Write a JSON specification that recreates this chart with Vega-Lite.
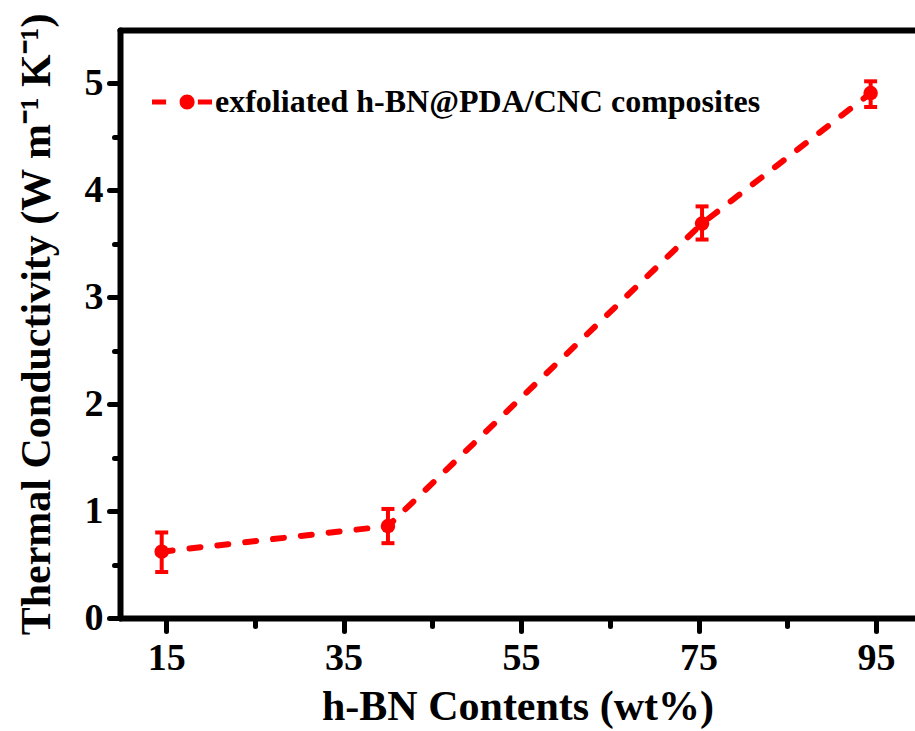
{
  "$schema": "https://vega.github.io/schema/vega-lite/v6.json",
  "width": 795,
  "height": 588,
  "autosize": {"type": "none"},
  "padding": {"left": 120, "top": 30, "right": 0, "bottom": 113},
  "background": "white",
  "config": {
    "view": {"stroke": null},
    "font": "Liberation Serif",
    "axis": {
      "grid": false,
      "domainColor": "black",
      "domainWidth": 6,
      "domainCap": "round",
      "tickColor": "black",
      "tickWidth": 5,
      "tickCap": "round",
      "labelFont": "Liberation Serif",
      "labelFontWeight": "bold",
      "labelFontSize": 38,
      "labelColor": "black",
      "titleFont": "Liberation Serif",
      "titleFontWeight": "bold",
      "titleFontSize": 42,
      "titleColor": "black"
    }
  },
  "data": {
    "values": [
      {"content": 14.5, "tc": 0.62, "lo": 0.43, "hi": 0.80, "series": "exfoliated h-BN@PDA/CNC composites"},
      {"content": 40.0, "tc": 0.86, "lo": 0.70, "hi": 1.02, "series": "exfoliated h-BN@PDA/CNC composites"},
      {"content": 75.4, "tc": 3.69, "lo": 3.54, "hi": 3.85, "series": "exfoliated h-BN@PDA/CNC composites"},
      {"content": 94.4, "tc": 4.91, "lo": 4.78, "hi": 5.02, "series": "exfoliated h-BN@PDA/CNC composites"}
    ]
  },
  "resolve": {"axis": {"x": "independent", "y": "independent"}},
  "layer": [
    {
      "mark": {"type": "point", "opacity": 0},
      "encoding": {
        "x": {
          "field": "content", "type": "quantitative",
          "axis": {"orient": "bottom", "values": [25, 45, 65, 85], "tickSize": 8, "labels": false, "domain": false, "title": null}
        },
        "y": {
          "field": "tc", "type": "quantitative",
          "axis": {"orient": "left", "values": [0.5, 1.5, 2.5, 3.5, 4.5], "tickSize": 6, "labels": false, "domain": false, "title": null}
        }
      }
    },
    {
      "mark": {"type": "line", "color": "#ff0000", "strokeWidth": 6, "strokeDash": [11, 17], "strokeCap": "round"},
      "encoding": {
        "x": {
          "field": "content", "type": "quantitative",
          "scale": {"domain": [9.8, 99.4], "nice": false, "zero": false},
          "axis": {"orient": "bottom", "values": [15, 35, 55, 75, 95], "tickSize": 13, "labelPadding": 8, "title": "h-BN Contents (wt%)", "titlePadding": 9}
        },
        "y": {
          "field": "tc", "type": "quantitative",
          "scale": {"domain": [0, 5.5], "nice": false},
          "axis": {"orient": "left", "values": [0, 1, 2, 3, 4, 5], "tickSize": 11, "labelPadding": 6, "title": "Thermal Conductivity (W m⁻¹ K⁻¹)", "titlePadding": 26}
        }
      }
    },
    {
      "mark": {
        "type": "errorbar",
        "color": "#ff0000",
        "opacity": 1,
        "rule": {"strokeWidth": 4, "opacity": 1},
        "ticks": {"size": 13, "thickness": 4, "color": "#ff0000", "opacity": 1}
      },
      "encoding": {
        "x": {"field": "content", "type": "quantitative", "axis": null},
        "y": {"field": "lo", "type": "quantitative", "axis": null},
        "y2": {"field": "hi"}
      }
    },
    {
      "mark": {"type": "point", "filled": true, "opacity": 1, "size": 210, "shape": "circle"},
      "encoding": {
        "x": {"field": "content", "type": "quantitative", "axis": null},
        "y": {"field": "tc", "type": "quantitative", "axis": null},
        "color": {
          "field": "series", "type": "nominal",
          "scale": {"range": ["#ff0000"]},
          "legend": {
            "title": null,
            "orient": "none",
            "legendX": 32,
            "legendY": 42,
            "padding": 0,
            "symbolType": "M-1,-0.08 L-0.53,-0.08 L-0.53,0.08 L-1,0.08 Z M0.53,-0.08 L1,-0.08 L1,0.08 L0.53,0.08 Z M-0.08,0 A0.25,0.25 0 1,0 0.42,0 A0.25,0.25 0 1,0 -0.08,0 Z",
            "symbolSize": 3600,
            "symbolStrokeWidth": 0,
            "symbolOpacity": 1,
            "labelFont": "Liberation Serif",
            "labelFontWeight": "bold",
            "labelFontSize": 32,
            "labelColor": "black",
            "labelOffset": 3,
            "labelLimit": 0
          }
        }
      }
    },
    {
      "mark": {"type": "point", "opacity": 0},
      "encoding": {
        "x": {
          "field": "content", "type": "quantitative",
          "axis": {"orient": "top", "ticks": false, "labels": false, "domain": true, "title": null}
        }
      }
    }
  ]
}
